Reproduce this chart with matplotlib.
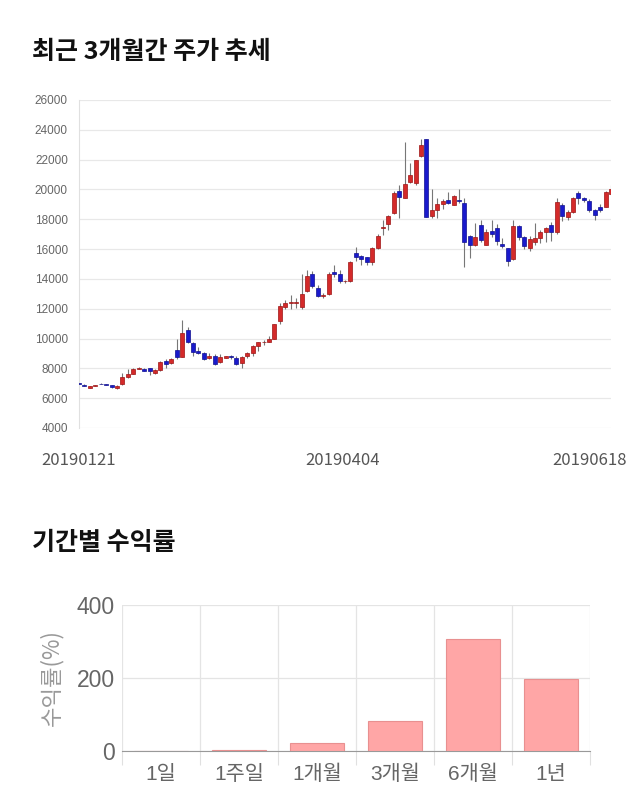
import numpy as np
import matplotlib
matplotlib.use('Agg')
import matplotlib.pyplot as plt
import matplotlib.transforms as mtrans

# daily candles (open, high, low, close)
opens = [7000, 6900, 6700, 6820, 6980, 6920, 6880, 6680, 6920, 7400,
         7620, 7990, 7980, 8000, 7700, 7900, 8480, 8350, 9200, 8780,
         10550, 9680, 9150, 9050, 8700, 8800, 8400, 8720, 8820, 8700,
         8350, 8800, 9050, 9500, 9740, 9780, 10000, 11200, 12100, 12380,
         12400, 12100, 13200, 14300, 13400, 12850, 13000, 14450, 14300, 13850,
         13850, 15750, 15550, 15450, 15150, 16050, 17400, 17650, 18400, 19900,
         19450, 20500, 20450, 22250, 23400, 18200, 18600, 19000, 19300, 18950,
         19280, 19100, 16900, 16250, 17600, 16300, 17200, 17400, 16350, 16050,
         15350, 17550, 16800, 16050, 16450, 16750, 17150, 17600, 17150, 18950,
         18150, 18500, 19750, 19400, 19250, 18650, 18800, 18850, 19700]
highs = [7050, 6950, 6850, 6870, 7000, 6950, 6900, 6900, 7700, 7950,
         8050, 8080, 8050, 8050, 7950, 8500, 8650, 8700, 10000, 11250,
         10750, 9750, 9400, 9100, 9050, 8950, 8950, 8850, 8900, 8800,
         8850, 9100, 9550, 9800, 9900, 10200, 11000, 12400, 12600, 12900,
         12700, 14350, 14600, 14500, 13600, 13050, 14450, 14900, 14600, 13950,
         15200, 16150, 15600, 15500, 16150, 17000, 17950, 18300, 19900, 20300,
         23200, 21750, 22000, 23400, 23400, 20050, 19450, 19350, 19800, 19600,
         20000, 19400, 16950, 17750, 17950, 17350, 17950, 17650, 16750, 16100,
         17950, 17600, 16850, 16850, 17750, 17300, 17500, 17800, 19400, 19100,
         18600, 19500, 19900, 19500, 19350, 18700, 19000, 19900, 20300]
lows = [6900, 6800, 6680, 6800, 6920, 6880, 6700, 6600, 6880, 7350,
        7600, 7950, 7800, 7550, 7650, 7800, 8050, 8300, 8650, 8750,
        9700, 8850, 8950, 8550, 8650, 8250, 8350, 8680, 8650, 8250,
        8000, 8700, 8850, 9150, 9550, 9750, 9980, 11000, 12000, 12000,
        12050, 11950, 13100, 13400, 12800, 12750, 12950, 14100, 13750, 13750,
        13800, 15200, 14950, 14900, 14950, 16000, 16950, 17300, 18350, 18100,
        19400, 20400, 20300, 22200, 18150, 18100, 18100, 18700, 19000, 18950,
        19100, 14800, 15400, 16200, 16500, 16250, 16800, 16250, 16100, 14850,
        15250, 16600, 16000, 15900, 16250, 16400, 16500, 16550, 17000, 17900,
        17950, 18450, 19000, 19150, 18500, 17950, 18500, 18800, 19650]
closes = [6950, 6820, 6820, 6850, 6940, 6900, 6750, 6830, 7400, 7620,
          7980, 8010, 7850, 7850, 7880, 8420, 8280, 8650, 8750, 10350,
          9750, 9100, 9000, 8600, 8800, 8300, 8750, 8800, 8780, 8300,
          8750, 9050, 9500, 9750, 9770, 10000, 10950, 12150, 12400, 12420,
          12420, 13000, 14200, 13500, 12850, 12950, 14300, 14300, 13850, 13850,
          15150, 15450, 15350, 15150, 16100, 16900, 17500, 18200, 19750, 19500,
          20350, 21000, 22000, 23000, 18150, 18650, 19000, 19200, 19100, 19550,
          19220, 16450, 16250, 16800, 16600, 17150, 17000, 16550, 16200, 15200,
          17550, 16800, 16200, 16650, 16750, 17150, 17400, 17150, 19150, 18250,
          18500, 19450, 19400, 19300, 18600, 18300, 18650, 19800, 20050]
date_labels = ['20190121', '20190404', '20190618']

periods = ['1일', '1주일', '1개월', '3개월', '6개월', '1년']
returns = [0.3, 3.5, 23, 83, 306, 196]

fig = plt.figure(figsize=(6.4, 8.1), dpi=100)

# ---- top: candle chart
ax = fig.add_axes([79/640, 1-428/810, 532/640, 328/810])
o = np.array(opens); c = np.array(closes)
h = np.array(highs); l = np.array(lows)
x = np.arange(len(o))
up = c >= o
col = np.where(up, '#d42a2a', '#1a1acc')
edg = np.where(up, '#9c1414', '#101090')
ax.vlines(x, l, h, color='#777777', lw=0.8, zorder=2)
body = np.maximum(np.abs(c - o), 40)
ax.bar(x, body, bottom=np.minimum(o, c), width=0.75, color=col,
       edgecolor=edg, linewidth=0.5, zorder=3)
ax.set_xlim(0, len(o) - 1)
ax.set_ylim(4000, 26000)
ax.set_yticks(np.arange(4000, 26001, 2000))
ax.set_yticklabels([str(v) for v in range(4000, 26001, 2000)],
                   family='Liberation Sans')
ax.grid(axis='y', color='#e8e8e8', lw=0.9)
ax.set_axisbelow(True)
for s in ['top', 'right', 'bottom']:
    ax.spines[s].set_visible(False)
ax.spines['left'].set_color('#e0e0e0')
ax.tick_params(axis='y', length=0, labelsize=8.5, labelcolor='#666666', pad=8)
ax.set_xticks([0, 48.5, len(o) - 1])
ax.set_xticklabels(date_labels, family=['Noto Sans CJK KR'], fontsize=12,
                   color='#555555')
ax.tick_params(axis='x', length=0, pad=17)
# last date label sits inside the figure, like the reference
last = ax.get_xticklabels()[-1]
last.set_transform(last.get_transform() +
                   mtrans.ScaledTranslation(-21/100, 0, fig.dpi_scale_trans))

fig.text(32/640, 1-52/810, '최근 3개월간 주가 추세', family=['Noto Sans CJK KR'],
         fontsize=18, fontweight='bold', va='center', ha='left', color='#111111')
fig.text(32/640, 1-543/810, '기간별 수익률', family=['Noto Sans CJK KR'],
         fontsize=18, fontweight='bold', va='center', ha='left', color='#111111')

# ---- bottom: returns bar chart
bx = fig.add_axes([122/640, 1-751/810, 468/640, 146/810])
bx.bar(np.arange(len(periods)) + 0.5, returns, width=0.68, color='#ffa6a6',
       edgecolor='#e89090', linewidth=0.8, zorder=3)
bx.set_xlim(0, len(periods))
bx.set_ylim(0, 400)
bx.set_yticks([0, 200, 400])
bx.set_yticklabels(['0', '200', '400'], family=['Liberation Sans'], fontsize=16.5,
                   color='#666666')
bx.set_xticks(np.arange(len(periods)) + 0.5)
bx.set_xticklabels(periods, family=['Liberation Sans', 'Noto Sans CJK KR'],
                   fontsize=15, color='#666666')
bx.set_xticks(np.arange(len(periods) + 1), minor=True)
bx.tick_params(axis='x', which='major', length=0, pad=10)
bx.tick_params(axis='x', which='minor', length=10, color='#e0e0e0', width=0.8)
bx.tick_params(axis='y', length=0, pad=5)
bx.grid(axis='y', color='#e4e4e4', lw=0.9)
bx.grid(axis='x', which='minor', color='#e4e4e4', lw=0.9)
bx.set_axisbelow(True)
for s in ['top', 'right', 'left']:
    bx.spines[s].set_visible(False)
bx.spines['bottom'].set_color('#999999')
bx.set_ylabel('수익률(%)', family=['Noto Sans CJK KR'], fontsize=16,
              color='#999999', labelpad=10)

fig.savefig('out.png', dpi=100)
